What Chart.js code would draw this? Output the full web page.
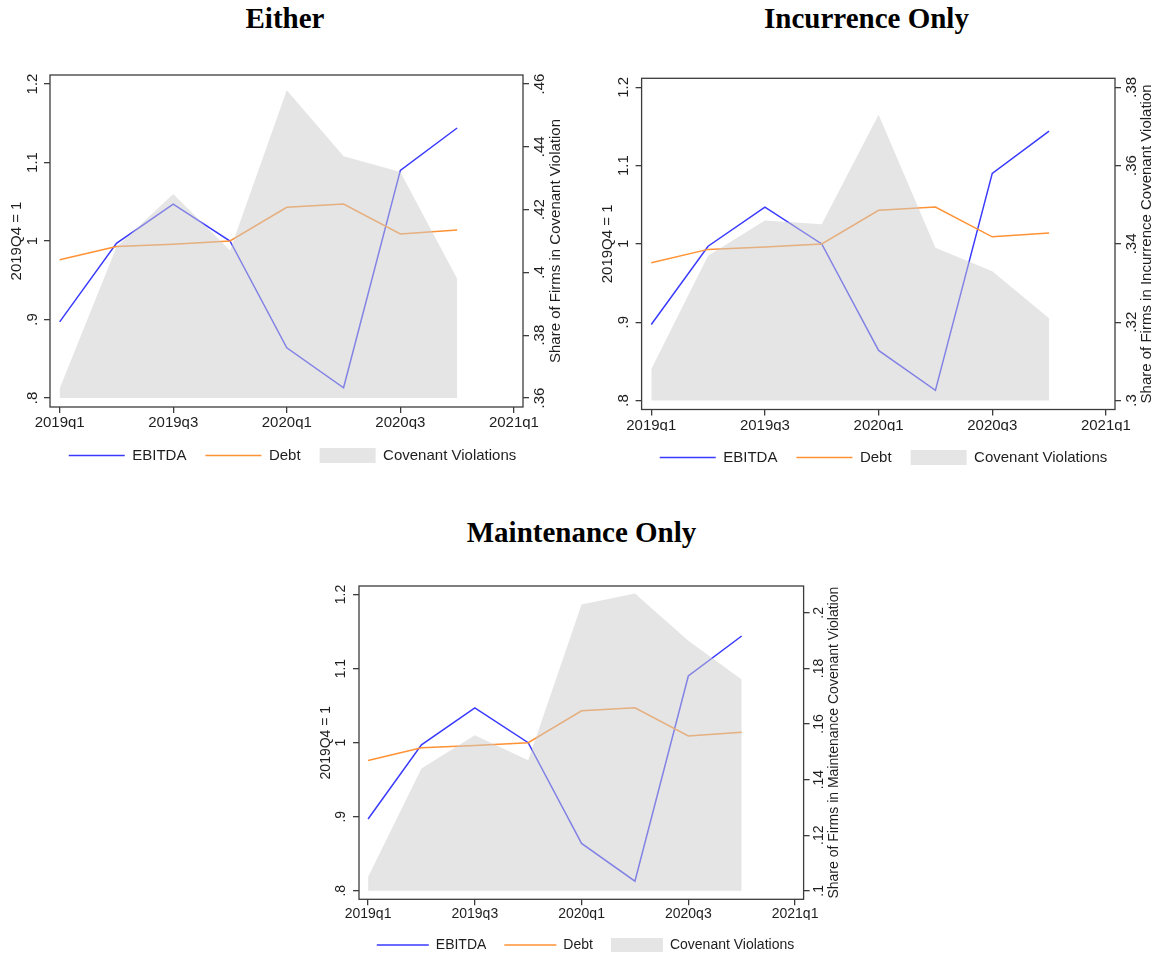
<!DOCTYPE html>
<html><head><meta charset="utf-8">
<script src="https://cdn.jsdelivr.net/npm/chart.js@4.4.1/dist/chart.umd.min.js"></script>
<style>
html,body{margin:0;padding:0;background:#fff;overflow:hidden;width:1158px;height:956px;}
.title{position:absolute;font-family:'Liberation Serif','Times New Roman',serif;font-weight:bold;font-size:29px;line-height:29px;text-align:center;color:#000;white-space:nowrap;width:300px;}
canvas{position:absolute;}
</style></head><body>
<div class="title" style="left:135px;top:3.6px;">Either</div>
<div class="title" style="left:716.5px;top:3.6px;">Incurrence Only</div>
<div class="title" style="left:431.5px;top:517.8px;">Maintenance Only</div>
<canvas id="c1" width="585" height="433" style="left:0px;top:40px;"></canvas>
<canvas id="c2" width="587" height="435" style="left:590px;top:40px;"></canvas>
<canvas id="c3" width="561" height="402" style="left:305px;top:560px;"></canvas>
<script>
// ---- data ----
const quarters = ['2019q1','2019q2','2019q3','2019q4','2020q1','2020q2','2020q3','2020q4'];
const ebitda = [0.897, 0.997, 1.047, 1.000, 0.864, 0.813, 1.090, 1.144];
const debt = [0.976, 0.993, 0.996, 1.000, 1.043, 1.047, 1.009, 1.014];
const violEither = [0.363, 0.408, 0.425, 0.407, 0.458, 0.437, 0.432, 0.398];
const violIncurrence = [0.308, 0.337, 0.346, 0.345, 0.373, 0.339, 0.333, 0.321];
const violMaintenance = [0.105, 0.144, 0.156, 0.147, 0.203, 0.207, 0.190, 0.176];

const xTickPositions = [0, 2, 4, 6, 8];
const xTickLabels = ['2019q1', '2019q3', '2020q1', '2020q3', '2021q1'];
const leftTicks = [0.8, 0.9, 1.0, 1.1, 1.2];
const leftTickLabels = ['.8', '.9', '1', '1.1', '1.2'];
const eitherTicks = [0.36, 0.38, 0.40, 0.42, 0.44, 0.46];
const eitherTickLabels = ['.36', '.38', '.4', '.42', '.44', '.46'];
const incurrenceTicks = [0.30, 0.32, 0.34, 0.36, 0.38];
const incurrenceTickLabels = ['.3', '.32', '.34', '.36', '.38'];
const maintenanceTicks = [0.10, 0.12, 0.14, 0.16, 0.18, 0.20];
const maintenanceTickLabels = ['.1', '.12', '.14', '.16', '.18', '.2'];

const seriesLabels = ['EBITDA', 'Debt', 'Covenant Violations'];
const leftTitle = '2019Q4 = 1';

// ---- styles ----
const FONT = "'Liberation Sans', Arial, Helvetica, sans-serif";
const INK = '#1e1e1e';
const FRAME = '#3c3c3c';
const BLUE = 'rgb(58,58,255)';
const ORANGE = 'rgb(255,146,52)';
const AREA = 'rgba(203,203,203,0.5)';
const AREA_LEGEND = 'rgb(229,229,229)';
Chart.defaults.font.family = FONT;

function lookup(vals, labels, v) {
  const i = vals.findIndex(t => Math.abs(t - v) < 1e-9);
  return i >= 0 ? labels[i] : '';
}

function makeChart(id, cfg) {
  const fs = cfg.fs;
  const tickGrid = {display: true, drawOnChartArea: false, drawTicks: true, tickLength: 6, color: FRAME, lineWidth: 1.3};
  const framePlugin = {
    id: 'frame_' + id,
    afterDatasetsDraw(chart) {
      const a = chart.chartArea, ctx = chart.ctx;
      ctx.save();
      ctx.strokeStyle = FRAME; ctx.lineWidth = 1.3;
      ctx.strokeRect(a.left, a.top, a.right - a.left, a.bottom - a.top);
      ctx.font = fs + 'px ' + FONT; ctx.fillStyle = INK;
      ctx.translate(a.right + cfg.rightTitleDx, (a.top + a.bottom) / 2);
      ctx.rotate(-Math.PI / 2);
      ctx.textAlign = 'center'; ctx.textBaseline = 'middle';
      ctx.fillText(cfg.rightTitle, 0, 0);
      ctx.restore();
    }
  };
  const pts = arr => quarters.map((q, i) => ({x: i, y: arr[i]}));
  return new Chart(document.getElementById(id), {
    type: 'line',
    data: {
      datasets: [
        {label: seriesLabels[0], data: pts(ebitda), yAxisID: 'y', borderColor: BLUE, borderWidth: 1.5, pointRadius: 0, tension: 0, fill: false, order: 2, legendStyle: 'line'},
        {label: seriesLabels[1], data: pts(debt), yAxisID: 'y', borderColor: ORANGE, borderWidth: 1.5, pointRadius: 0, tension: 0, fill: false, order: 1, legendStyle: 'line'},
        {label: seriesLabels[2], data: pts(cfg.viol), yAxisID: 'y1', borderColor: 'rgba(0,0,0,0)', borderWidth: 0, backgroundColor: AREA, pointRadius: 0, tension: 0, fill: {value: cfg.rTicks[0]}, order: 0, legendStyle: 'rect'}
      ]
    },
    options: {
      responsive: false, animation: false, events: [],
      layout: {padding: {left: 0, right: 0, top: cfg.pt, bottom: 0}},
      plugins: {
        tooltip: {enabled: false},
        title: {display: false},
        legend: {
          position: 'bottom',
          labels: {
            usePointStyle: true, pointStyleWidth: cfg.legW, boxHeight: fs, padding: cfg.legPad,
            font: {size: fs, family: FONT}, color: INK,
            generateLabels: chart => chart.data.datasets.map((ds, i) => ({
              text: ds.label, datasetIndex: i, hidden: false,
              pointStyle: ds.legendStyle,
              fillStyle: ds.legendStyle === 'rect' ? AREA_LEGEND : ds.borderColor,
              strokeStyle: ds.legendStyle === 'rect' ? AREA_LEGEND : ds.borderColor,
              lineWidth: ds.legendStyle === 'rect' ? 0 : 1.5,
              fontColor: INK
            }))
          }
        }
      },
      scales: {
        x: {
          type: 'linear', position: 'bottom', min: -0.17, max: 8.16,
          afterBuildTicks: s => { s.ticks = xTickPositions.map(v => ({value: v})); },
          ticks: {callback: v => lookup(xTickPositions, xTickLabels, v), font: {size: fs}, color: INK, padding: cfg.xPad, autoSkip: false, minRotation: 0, maxRotation: 0},
          grid: tickGrid, border: {display: false},
          afterFit: s => { s.height = cfg.hX; }
        },
        y: {
          type: 'linear', position: 'left', min: 0.7885, max: 1.2115,
          afterBuildTicks: s => { s.ticks = leftTicks.map(v => ({value: v})); },
          ticks: {callback: v => lookup(leftTicks, leftTickLabels, v), font: {size: fs}, color: INK, padding: cfg.yPadL, autoSkip: false, minRotation: 90, maxRotation: 90, crossAlign: 'center'},
          grid: tickGrid, border: {display: false},
          title: {display: true, text: leftTitle, font: {size: fs}, color: INK, padding: {top: cfg.ltPad, bottom: 0}},
          afterFit: s => { s.width = cfg.wL; }
        },
        y1: {
          type: 'linear', position: 'right', min: cfg.rMin, max: cfg.rMax,
          afterBuildTicks: s => { s.ticks = cfg.rTicks.map(v => ({value: v})); },
          ticks: {callback: v => lookup(cfg.rTicks, cfg.rLabels, v), font: {size: fs}, color: INK, padding: cfg.yPadR, autoSkip: false, minRotation: 90, maxRotation: 90, crossAlign: 'center'},
          grid: tickGrid, border: {display: false},
          afterFit: s => { s.width = cfg.wR; }
        }
      }
    },
    plugins: [framePlugin]
  });
}

makeChart('c1', {
  fs: 15, pt: 35, wL: 50, wR: 62, hX: 22, xPad: 1, yPadL: 1.2, yPadR: 0, ltPad: 7.7,
  rightTitleDx: 33, legW: 56, legPad: 19,
  viol: violEither, rTicks: eitherTicks, rLabels: eitherTickLabels,
  rMin: 0.357125, rMax: 0.462875,
  rightTitle: 'Share of Firms in Covenant Violation'
});
makeChart('c2', {
  fs: 15, pt: 38.3, wL: 51.6, wR: 62, hX: 21.5, xPad: 1, yPadL: 1.5, yPadR: 0, ltPad: 8.7,
  rightTitleDx: 32, legW: 56, legPad: 19,
  viol: violIncurrence, rTicks: incurrenceTicks, rLabels: incurrenceTickLabels,
  rMin: 0.2977, rMax: 0.3823,
  rightTitle: 'Share of Firms in Incurrence Covenant Violation'
});
makeChart('c3', {
  fs: 14, pt: 26, wL: 54, wR: 62.4, hX: 20.7, xPad: 0, yPadL: 2.3, yPadR: 0, ltPad: 12.9,
  rightTitleDx: 31, legW: 52, legPad: 18,
  viol: violMaintenance, rTicks: maintenanceTicks, rLabels: maintenanceTickLabels,
  rMin: 0.09694, rMax: 0.20966,
  rightTitle: 'Share of Firms in Maintenance Covenant Violation'
});
</script>
</body></html>
